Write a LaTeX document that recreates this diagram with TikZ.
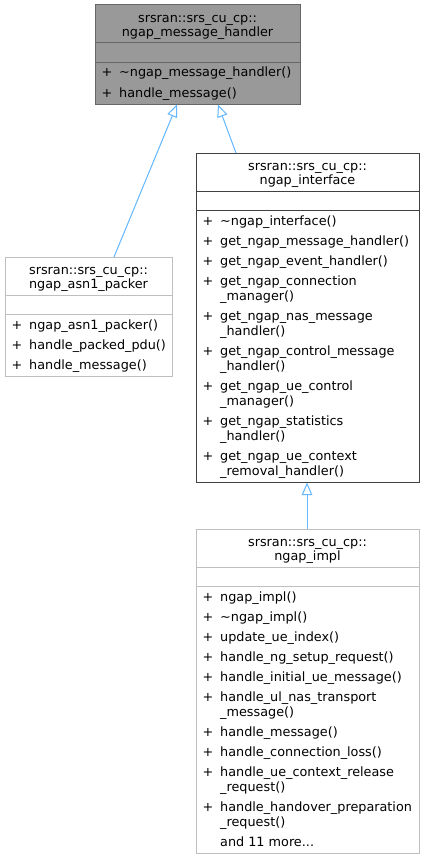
\documentclass[tikz,border=0pt]{standalone}
\usepackage{fontspec}
\setmainfont{DejaVu Sans}
\usetikzlibrary{arrows.meta}
\definecolor{edgeblue}{HTML}{63B8FF}
\definecolor{topfill}{HTML}{999999}
\definecolor{topdraw}{HTML}{666666}
\definecolor{lightdraw}{HTML}{BFBFBF}
\definecolor{darkdraw}{HTML}{404040}
\newcommand\umlmember[4]{%
  \node[txt] (#1p) at ({#2+6.5},#3) {+};
  \node[txt] (#1n) at ({#2+24},#3) {#4};}
\newcommand\umlcont[4]{%
  \node[txt] (#1) at ({#2+24},#3) {#4};}
\begin{document}
\begin{tikzpicture}[x=1pt,y=-1pt,
  txt/.style={anchor=base west, inner sep=0pt, font=\fontsize{12.8}{15}\selectfont},
  ttl/.style={anchor=base, inner sep=0pt, font=\fontsize{12.8}{15}\selectfont},
  boxnode/.style={anchor=north west, inner sep=0pt, outer sep=0pt, line width=1pt, rectangle},
  inherit/.style={draw=edgeblue, line width=1pt, -{Triangle[length=12.5pt,width=10.5pt,fill=white]}}]
\useasboundingbox (0,0) rectangle (424,859);
\fill[white] (0,0) rectangle (424,859);

% ---------- top box: ngap_message_handler ----------
\node[boxnode, draw=topdraw, fill=topfill, minimum width=205pt, minimum height=99.5pt] (mh) at (95,5) {};
\draw[topdraw, line width=1pt] (95,43) -- (300,43) (95,62.5) -- (300,62.5);
\node[ttl] (mht1) at (197.5,22.5) {srsran::srs\_cu\_cp::};
\node[ttl] (mht2) at (197.5,36.5) {ngap\_message\_handler};
\umlmember{mha}{95}{77}{\textasciitilde ngap\_message\_handler()}
\umlmember{mhb}{95}{97}{handle\_message()}

% ---------- left box: ngap_asn1_packer ----------
\node[boxnode, draw=lightdraw, minimum width=167pt, minimum height=119.5pt] (pk) at (5,257) {};
\draw[lightdraw, line width=1pt] (5,295) -- (172,295) (5,314.5) -- (172,314.5);
\node[ttl] (pkt1) at (88.5,274.5) {srsran::srs\_cu\_cp::};
\node[ttl] (pkt2) at (88.5,288.5) {ngap\_asn1\_packer};
\umlmember{pka}{5}{329}{ngap\_asn1\_packer()}
\umlmember{pkb}{5}{349}{handle\_packed\_pdu()}
\umlmember{pkc}{5}{369}{handle\_message()}

% ---------- middle box: ngap_interface ----------
\node[boxnode, draw=darkdraw, minimum width=223pt, minimum height=329.5pt] (ni) at (196,153) {};
\draw[darkdraw, line width=1pt] (196,191) -- (419,191) (196,210.5) -- (419,210.5);
\node[ttl] (nit1) at (307.5,170.5) {srsran::srs\_cu\_cp::};
\node[ttl] (nit2) at (307.5,184.5) {ngap\_interface};
\umlmember{nia}{196}{225}{\textasciitilde ngap\_interface()}
\umlmember{nib}{196}{245}{get\_ngap\_message\_handler()}
\umlmember{nic}{196}{265}{get\_ngap\_event\_handler()}
\umlmember{nid}{196}{285}{get\_ngap\_connection}
\umlcont{nidc}{196}{300}{\_manager()}
\umlmember{nie}{196}{320}{get\_ngap\_nas\_message}
\umlcont{niec}{196}{335}{\_handler()}
\umlmember{nif}{196}{355}{get\_ngap\_control\_message}
\umlcont{nifc}{196}{370}{\_handler()}
\umlmember{nig}{196}{390}{get\_ngap\_ue\_control}
\umlcont{nigc}{196}{405}{\_manager()}
\umlmember{nih}{196}{425}{get\_ngap\_statistics}
\umlcont{nihc}{196}{440}{\_handler()}
\umlmember{nii}{196}{460}{get\_ngap\_ue\_context}
\umlcont{niic}{196}{475}{\_removal\_handler()}

% ---------- bottom box: ngap_impl ----------
\node[boxnode, draw=lightdraw, minimum width=223pt, minimum height=324.5pt] (im) at (196,529) {};
\draw[lightdraw, line width=1pt] (196,567) -- (419,567) (196,586.5) -- (419,586.5);
\node[ttl] (imt1) at (307.5,546.5) {srsran::srs\_cu\_cp::};
\node[ttl] (imt2) at (307.5,560.5) {ngap\_impl};
\umlmember{ima}{196}{601}{ngap\_impl()}
\umlmember{imb}{196}{621}{\textasciitilde ngap\_impl()}
\umlmember{imc}{196}{641}{update\_ue\_index()}
\umlmember{imd}{196}{661}{handle\_ng\_setup\_request()}
\umlmember{ime}{196}{681}{handle\_initial\_ue\_message()}
\umlmember{imf}{196}{701}{handle\_ul\_nas\_transport}
\umlcont{imfc}{196}{716}{\_message()}
\umlmember{img}{196}{736}{handle\_message()}
\umlmember{imh}{196}{756}{handle\_connection\_loss()}
\umlmember{imi}{196}{776}{handle\_ue\_context\_release}
\umlcont{imic}{196}{791}{\_request()}
\umlmember{imj}{196}{811}{handle\_handover\_preparation}
\umlcont{imjc}{196}{826}{\_request()}
\umlcont{imk}{196}{846}{and 11 more...}

% ---------- inheritance connectors ----------
\coordinate (pkTop) at (114,257);
\coordinate (mhL) at (177,104.5);
\coordinate (niTop) at (236,153);
\coordinate (mhR) at (218,104.5);
\draw[inherit] (pkTop) -- (mhL);
\draw[inherit] (niTop) -- (mhR);
\draw[inherit] (im.north -| 307,0) -- (ni.south -| 307,0);
\end{tikzpicture}
\end{document}
